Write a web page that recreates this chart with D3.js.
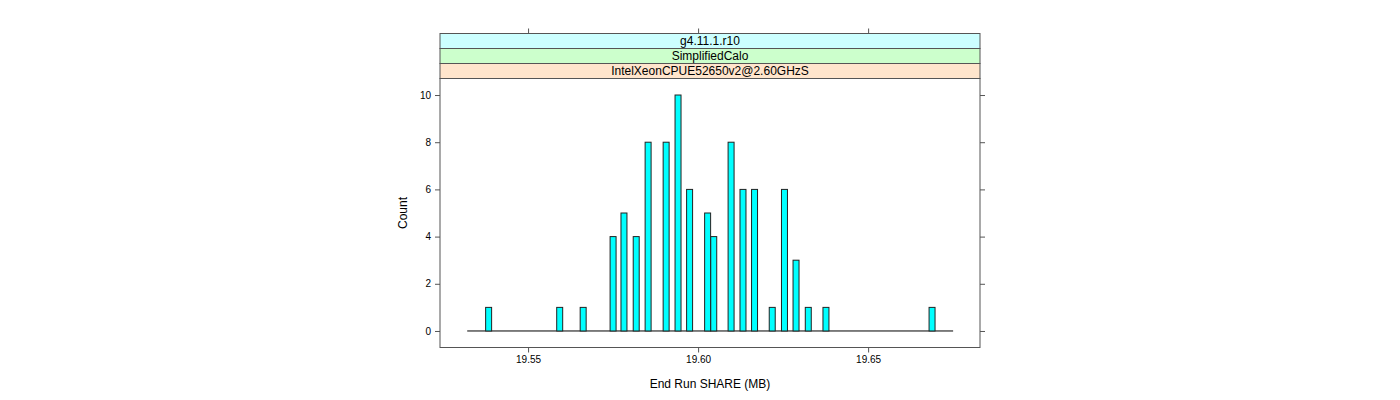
<!DOCTYPE html>
<html>
<head>
<meta charset="utf-8">
<script src="https://cdn.jsdelivr.net/npm/d3@7"></script>
<style>
  html, body { margin: 0; padding: 0; background: #fff; }
  svg text { font-family: "Liberation Sans", Arial, Helvetica, sans-serif; }
</style>
</head>
<body>
<svg id="chart" width="1400" height="400"></svg>
<script>
// ---- data ----
const binCenters = [19.5384, 19.5593, 19.5662, 19.5750, 19.5782, 19.5818, 19.5853, 19.5906, 19.5941, 19.5975,
                    19.6028, 19.6046, 19.6097, 19.6132, 19.6166, 19.6218, 19.6254, 19.6288, 19.6324, 19.6376, 19.6688];
const counts     = [1, 1, 1, 4, 5, 4, 8, 8, 10, 6,
                    5, 4, 8, 6, 6, 1, 6, 3, 1, 1, 1];
const binWidth = 0.00176;
const binRange = [19.5321, 19.6750];
const xDomain = [19.5241, 19.6829];
const yDomain = [-0.7, 10.7];
const xTicks = [19.55, 19.60, 19.65];
const xTickLabels = ["19.55", "19.60", "19.65"];
const yTicks = [0, 2, 4, 6, 8, 10];
const strips = ["g4.11.1.r10", "SimplifiedCalo", "IntelXeonCPUE52650v2@2.60GHzS"];
const stripColors = ["#CCFFFF", "#CCFFCC", "#FFE5CC"];
const xLabel = "End Run SHARE (MB)";
const yLabel = "Count";

// ---- layout ----
const left = 440, right = 980, panelTop = 78.5, panelBottom = 347.5;
const stripH = 15;
const stripTop = panelTop - stripH * strips.length;

const svg = d3.select("#chart");
const x = d3.scaleLinear().domain(xDomain).range([left, right]);
const y = d3.scaleLinear().domain(yDomain).range([panelBottom, panelTop]);

const axisCol = "#555";

// strips
strips.forEach((s, i) => {
  const top = stripTop + i * stripH;
  svg.append("rect").attr("x", left).attr("y", top).attr("width", right - left).attr("height", stripH)
    .attr("fill", stripColors[i]).attr("stroke", axisCol).attr("stroke-width", 1);
  svg.append("text").attr("x", (left + right) / 2).attr("y", top + stripH / 2 + 4.2)
    .attr("text-anchor", "middle").attr("font-size", 12).attr("fill", "#000").text(s);
});

// panel border
svg.append("rect").attr("x", left).attr("y", panelTop).attr("width", right - left).attr("height", panelBottom - panelTop)
  .attr("fill", "none").attr("stroke", axisCol).attr("stroke-width", 1);

// baseline for zero-count bins
svg.append("line").attr("x1", x(binRange[0])).attr("x2", x(binRange[1]))
  .attr("y1", y(0)).attr("y2", y(0)).attr("stroke", "#000").attr("stroke-width", 1);

// bars
svg.selectAll("rect.bar").data(binCenters.map((c, i) => ({c, n: counts[i]}))).enter()
  .append("rect").attr("class", "bar")
  .attr("x", d => x(d.c - binWidth / 2))
  .attr("width", d => x(d.c + binWidth / 2) - x(d.c - binWidth / 2))
  .attr("y", d => y(d.n))
  .attr("height", d => y(0) - y(d.n))
  .attr("fill", "#00FFFF").attr("stroke", "#222").attr("stroke-width", 1);

// axes
const bottomAxis = d3.axisBottom(x).tickValues(xTicks).tickSize(5).tickPadding(3)
  .tickFormat((d, i) => xTickLabels[i]);
const gB = svg.append("g").attr("transform", `translate(0,${panelBottom})`).call(bottomAxis);
const topAxis = d3.axisTop(x).tickValues(xTicks).tickSize(5).tickFormat("");
const gT = svg.append("g").attr("transform", `translate(0,${stripTop})`).call(topAxis);
const leftAxis = d3.axisLeft(y).tickValues(yTicks).tickSize(5).tickPadding(4);
const gL = svg.append("g").attr("transform", `translate(${left},0)`).call(leftAxis);
const rightAxis = d3.axisRight(y).tickValues(yTicks).tickSize(5).tickFormat("");
const gR = svg.append("g").attr("transform", `translate(${right},0)`).call(rightAxis);
[gB, gT, gL, gR].forEach(g => {
  g.select(".domain").remove();
  g.selectAll(".tick line").attr("stroke", axisCol);
  g.selectAll(".tick text").attr("font-size", 10).attr("fill", "#000")
    .style("font-family", '"Liberation Sans", Arial, sans-serif');
});

// axis labels
svg.append("text").attr("x", (left + right) / 2).attr("y", 388).attr("text-anchor", "middle")
  .attr("font-size", 12).text(xLabel);
svg.append("text").attr("transform", `translate(407,${(panelTop + panelBottom) / 2}) rotate(-90)`)
  .attr("text-anchor", "middle").attr("font-size", 12).text(yLabel);
</script>
</body>
</html>
